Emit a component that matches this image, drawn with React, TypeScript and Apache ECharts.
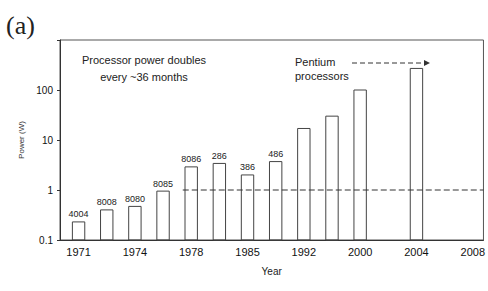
import React, { useEffect, useRef } from "react";
import * as echarts from "echarts";

// Tick labels along the (ordinal) year axis, evenly spaced
const yearLabels = ["1971", "1974", "1978", "1985", "1992", "2000", "2004", "2008"];
// Bar positions on the ordinal axis (index units), names and power values (W)
const barPos = [0, 0.5, 1, 1.5, 2, 2.5, 3, 3.5, 4, 4.5, 5, 6];
const barNames = ["4004", "8008", "8080", "8085", "8086", "286", "386", "486", "", "", "", ""];
const barPower = [0.23, 0.4, 0.47, 0.95, 2.9, 3.4, 2.0, 3.7, 17, 30, 100, 270];
// Reference line at 1 W
const refLineX = [1.85, 7.19];
const refLineY = [1, 1];
const yTicks = [0.1, 1, 10, 100];

const FONT = "'Liberation Sans Narrow', 'Liberation Sans', Arial, sans-serif";

export default function App() {
  const ref = useRef<HTMLDivElement>(null);
  useEffect(() => {
    document.body.style.margin = "0";
    if (!ref.current) return;
    const chart = echarts.init(ref.current, null, { renderer: "svg" });
    const barData = barPos.map((x, i) => [x, barPower[i], i]);
    chart.setOption({
      animation: false,
      backgroundColor: "#fff",
      textStyle: { fontFamily: FONT },
      grid: {
        left: 60,
        right: 1,
        top: 40,
        bottom: 51,
        show: true,
        borderColor: "#555",
        borderWidth: 1,
      },
      xAxis: {
        type: "value",
        min: -0.33,
        max: 7.19,
        name: "Year",
        nameLocation: "middle",
        nameGap: 26,
        nameTextStyle: { fontSize: 10, color: "#222", fontFamily: FONT },
        axisLine: { show: true, onZero: false, lineStyle: { color: "#333", width: 1 } },
        axisTick: { show: false },
        splitLine: { show: false },
        axisLabel: {
          customValues: [0, 1, 2, 3, 4, 5, 6, 7],
          formatter: (v: number) => yearLabels[Math.round(v)] ?? "",
          fontSize: 11,
          color: "#111",
          margin: 6,
          fontFamily: FONT,
        },
      },
      yAxis: {
        type: "log",
        logBase: 10,
        min: 0.1,
        max: 1000,
        name: "Power (W)",
        nameLocation: "middle",
        nameGap: 32,
        nameTextStyle: { fontSize: 8, color: "#333", fontFamily: FONT },
        axisLine: { show: true, onZero: false, lineStyle: { color: "#333", width: 1 } },
        axisTick: { show: true, length: 3, lineStyle: { color: "#333" } },
        splitLine: { show: false },
        axisLabel: {
          customValues: yTicks,
          formatter: (v: number) => (yTicks.some((t) => Math.abs(t - v) < 1e-9) ? String(v) : ""),
          fontSize: 10,
          color: "#111",
          margin: 7,
          fontFamily: FONT,
        },
      },
      series: [
        {
          type: "custom",
          data: barData,
          renderItem: (params: any, api: any) => {
            const x = api.value(0);
            const v = api.value(1);
            const idx = api.value(2);
            const top = api.coord([x, v]);
            const base = api.coord([x, 0.1]);
            const l = api.coord([x - 0.11, v])[0];
            const r = api.coord([x + 0.11, v])[0];
            const children: any[] = [
              {
                type: "rect",
                shape: { x: l, y: top[1], width: r - l, height: base[1] - top[1] },
                style: { fill: "none", stroke: "#444", lineWidth: 1 },
              },
            ];
            const name = barNames[idx];
            if (name) {
              children.push({
                type: "text",
                style: {
                  text: name,
                  x: top[0],
                  y: top[1] - 3,
                  align: "center",
                  verticalAlign: "bottom",
                  font: `9px ${FONT}`,
                  fill: "#222",
                },
              });
            }
            return { type: "group", children };
          },
        },
        {
          type: "line",
          data: refLineX.map((x, i) => [x, refLineY[i]]),
          symbol: "none",
          lineStyle: { color: "#333", width: 1, type: [6, 3] },
          silent: true,
        },
      ],
      graphic: [
        {
          type: "text",
          x: 6,
          y: 12,
          style: { text: "(a)", font: "26px 'Liberation Serif', 'DejaVu Serif', serif", fill: "#222" },
        },
        {
          type: "text",
          x: 144,
          y: 68,
          style: {
            text: "Processor power doubles\nevery ~36 months",
            align: "center",
            verticalAlign: "middle",
            font: `11px ${FONT}`,
            lineHeight: 17,
            fill: "#222",
          },
        },
        {
          type: "text",
          x: 295,
          y: 55,
          style: {
            text: "Pentium\nprocessors",
            align: "left",
            verticalAlign: "top",
            font: `11px ${FONT}`,
            lineHeight: 14,
            fill: "#222",
          },
        },
        {
          type: "line",
          shape: { x1: 352, y1: 63, x2: 424, y2: 63 },
          style: { stroke: "#333", lineWidth: 1, lineDash: [5, 3] },
        },
        {
          type: "polygon",
          shape: { points: [[424, 60], [430, 63], [424, 66]] },
          style: { fill: "#333" },
        },
      ],
    });
    return () => chart.dispose();
  }, []);
  return <div ref={ref} style={{ width: 488, height: 291 }} />;
}
